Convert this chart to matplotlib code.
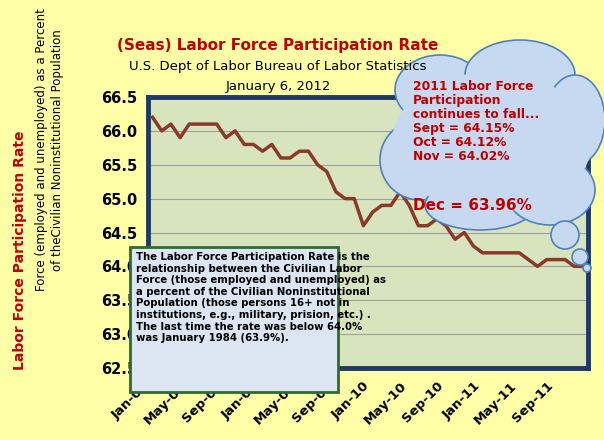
import numpy as np
import matplotlib.pyplot as plt
from matplotlib.patches import Ellipse, FancyBboxPatch

months = ['Jan-08', 'May-08', 'Sep-08', 'Jan-09', 'May-09', 'Sep-09',
          'Jan-10', 'May-10', 'Sep-10', 'Jan-11', 'May-11', 'Sep-11']
rate = [66.2, 66.0, 66.1, 65.9, 66.1, 66.1, 66.1, 66.1, 65.9, 66.0, 65.8, 65.8,
        65.7, 65.8, 65.6, 65.6, 65.7, 65.7, 65.5, 65.4, 65.1, 65.0, 65.0, 64.6,
        64.8, 64.9, 64.9, 65.1, 64.9, 64.6, 64.6, 64.7, 64.6, 64.4, 64.5, 64.3,
        64.2, 64.2, 64.2, 64.2, 64.2, 64.1, 64.0, 64.1, 64.1, 64.1, 64.0, 64.0]
yticks = [62.5, 63.0, 63.5, 64.0, 64.5, 65.0, 65.5, 66.0, 66.5]

W, H = 604, 440
fig = plt.figure(figsize=(W/100, H/100), dpi=100, facecolor='#FFFFA8')
ax = fig.add_axes([148/W, 1-368/H, (588-148)/W, (368-97)/H])
ax.set_facecolor('#D7E4BD')
x = np.arange(len(rate))
ax.plot(x, rate, color='#8B3A2A', lw=2.5)
ax.set_xlim(-0.5, len(rate)-0.5)
ax.set_ylim(62.5, 66.5)
ax.set_yticks(yticks)
ax.set_yticklabels([f'{v:.1f}' for v in yticks], fontsize=10.5, fontweight='bold')
ax.set_xticks(np.arange(0, 48, 4))
ax.set_xticklabels(months, rotation=45, ha='right', fontsize=9.5, fontweight='bold')
ax.grid(axis='y', color='#A0A0A0', lw=0.8)
ax.tick_params(length=0, pad=8)
for s in ax.spines.values():
    s.set_color('#1F3864')
    s.set_linewidth(3.5)

fig.text(0.46, 1-50/H, '(Seas) Labor Force Participation Rate', color='#C00000',
         fontsize=11, fontweight='bold', ha='center')
fig.text(0.46, 1-70/H, 'U.S. Dept of Labor Bureau of Labor Statistics', fontsize=9.5, ha='center')
fig.text(0.46, 1-90/H, 'January 6, 2012', fontsize=9.5, ha='center')

fig.text(20/W, 1-250/H, 'Labor Force Participation Rate', color='#C00000', fontsize=10,
         fontweight='bold', rotation=90, ha='center', va='center')
fig.text(42/W, 1-150/H, 'Force (employed and unemployed) as a Percent', fontsize=8.5,
         rotation=90, ha='center', va='center')
fig.text(58/W, 1-150/H, 'of theCivilian Noninstitutional Population', fontsize=8.5,
         rotation=90, ha='center', va='center')

# text box
box = FancyBboxPatch((130/W, 1-392/H), (338-130)/W, (392-247)/H, boxstyle='square,pad=0',
                     transform=fig.transFigure, fc='#DCE6F2', ec='#2E6B2E', lw=2)
fig.add_artist(box)
fig.text(136/W, 1-252/H,
         'The Labor Force Participation Rate is the\n'
         'relationship between the Civilian Labor\n'
         'Force (those employed and unemployed) as\n'
         'a percent of the Civilian Noninstitutional\n'
         'Population (those persons 16+ not in\n'
         'institutions, e.g., military, prision, etc.) .\n'
         'The last time the rate was below 64.0%\n'
         'was January 1984 (63.9%).',
         fontsize=7.3, fontweight='bold', va='top', linespacing=1.2)

# cloud
for cx, cy, w, h in [(440, 90, 90, 70), (520, 75, 110, 70), (575, 120, 60, 90),
                     (420, 160, 80, 80), (480, 205, 110, 50), (550, 190, 90, 70)]:
    fig.add_artist(Ellipse((cx/W, 1-cy/H), w/W, h/H, transform=fig.transFigure,
                           fc='#C6D9F1', ec='#4F81BD', lw=1.2))
fig.add_artist(Ellipse((492/W, 1-142/H), 200/W, 140/H, transform=fig.transFigure,
                       fc='#C6D9F1', ec='none'))
for cx, cy, r in [(565, 235, 14), (580, 257, 8), (587, 268, 4)]:
    fig.add_artist(Ellipse((cx/W, 1-cy/H), 2*r/W, 2*r/H, transform=fig.transFigure,
                           fc='#C6D9F1', ec='#4F81BD', lw=1.2))
fig.text(413/W, 1-80/H, '2011 Labor Force\nParticipation\ncontinues to fall...\n'
         'Sept = 64.15%\nOct = 64.12%\nNov = 64.02%', color='#C00000', fontsize=8.8,
         fontweight='bold', va='top', linespacing=1.1)
fig.text(413/W, 1-210/H, 'Dec = 63.96%', color='#C00000', fontsize=11, fontweight='bold')

fig.savefig('out.png', dpi=100, facecolor=fig.get_facecolor())
